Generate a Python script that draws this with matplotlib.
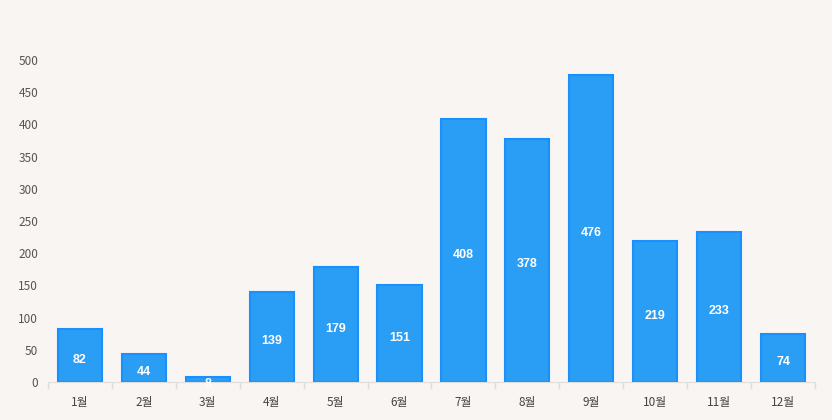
import numpy as np
import matplotlib.pyplot as plt

months = ["1월", "2월", "3월", "4월", "5월", "6월", "7월", "8월", "9월", "10월", "11월", "12월"]
values = [82, 44, 8, 139, 179, 151, 408, 378, 476, 219, 233, 74]
y_ticks = [0, 50, 100, 150, 200, 250, 300, 350, 400, 450, 500]

plt.rcParams['font.family'] = ['Noto Sans CJK KR', 'DejaVu Sans']

BG = "#f8f5f2"
BAR = "#2a9df4"
EDGE = "#1890ff"

fig = plt.figure(figsize=(8.32, 4.2), dpi=100, facecolor=BG)
ax = fig.add_axes([48 / 832, 38 / 420, 767 / 832, 322 / 420], facecolor=BG)

x = np.arange(len(months))
bars = ax.bar(x, values, width=0.69, color=BAR, edgecolor=EDGE, linewidth=1.5)

# value labels in the middle of each bar, nudged down a little
for b, v in zip(bars, values):
    ax.annotate(str(v), (b.get_x() + b.get_width() / 2, v / 2), xytext=(0, -3),
                textcoords="offset points", ha="center", va="center",
                color="white", fontsize=9, fontweight="bold", family="Liberation Sans")

ax.set_xlim(-0.5, len(months) - 0.5)
ax.set_ylim(0, 500)
ax.set_yticks(y_ticks)
ax.set_xticks(x)
ax.set_xticklabels(months)
ax.set_xticks(np.arange(-0.5, len(months)), minor=True)

ax.tick_params(axis="y", length=0, pad=7, labelsize=8.5, labelcolor="#555555")
ax.tick_params(axis="x", which="major", length=0, pad=10, labelsize=8.5, labelcolor="#444444")
ax.tick_params(axis="x", which="minor", length=5, color="#dddddd", width=1)

for s in ["top", "right", "left"]:
    ax.spines[s].set_visible(False)
ax.spines["bottom"].set_color("#dddddd")

fig.savefig("out.png", dpi=100, facecolor=BG)
